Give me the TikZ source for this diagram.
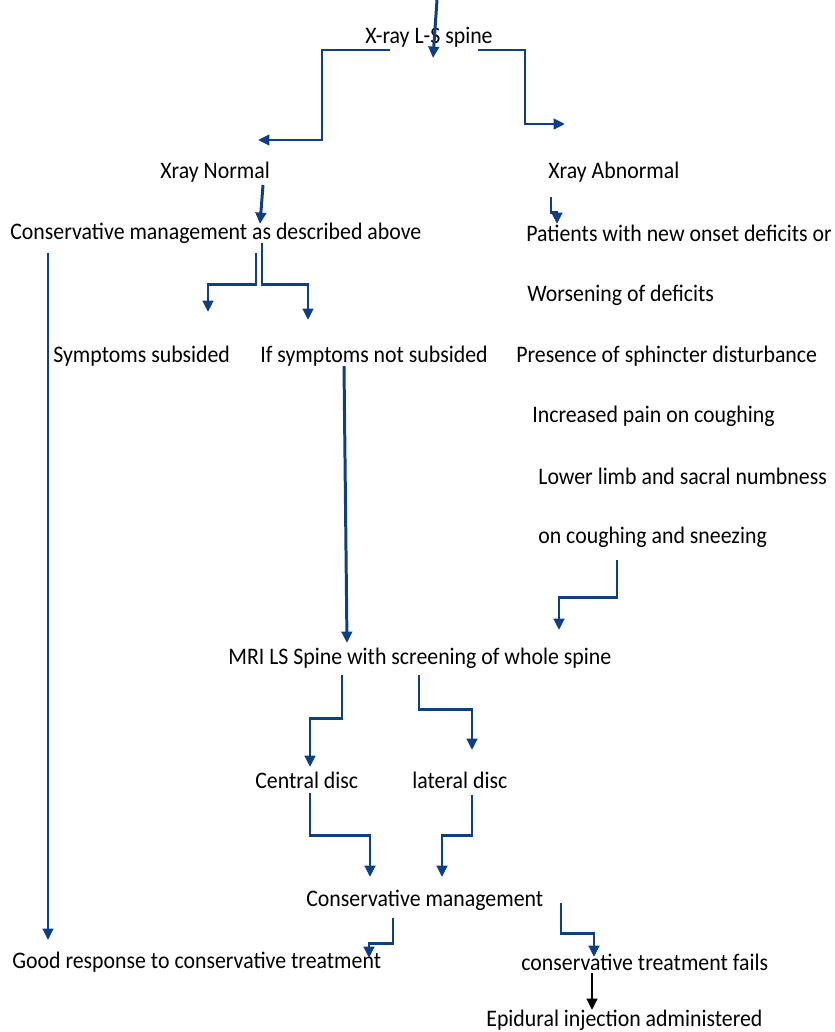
\documentclass[tikz,border=0pt]{standalone}
\usepackage{fontspec}
\setmainfont{Carlito}[FakeStretch=0.92]
\usepackage{tikz}
\usetikzlibrary{calc}
\usetikzlibrary{arrows.meta}
\definecolor{flowblue}{HTML}{0E3F82}

\begin{document}
\begin{tikzpicture}[x=0.02cm, y=-0.02cm,
		lbl/.style={anchor=west, inner sep=0pt, font=\fontsize{13.5}{15}\selectfont},
		conn/.style={flowblue, line width=1.7pt, -{Triangle[length=6.5pt, width=6pt]}},
		conndark/.style={conn, black}]
			\useasboundingbox (0, 0) rectangle (835, 1032);

			\node[lbl] (xray) at (365, 37) {X-ray L-S spine};
			\node[lbl] (xnorm) at (160, 172) {Xray Normal};
			\node[lbl] (xabn) at (548, 172) {Xray Abnormal};
			\node[lbl] (consabove) at (10, 233) {Conservative management as described above};
			\node[lbl] (patients) at (526, 233) {Patients with new onset deficits or};
			\node[lbl] (worsen) at (527, 295) {Worsening of deficits};
			\node[lbl] (subsided) at (53, 356) {Symptoms subsided};
			\node[lbl] (notsub) at (260, 356) {If symptoms not subsided};
			\node[lbl] (sphincter) at (516, 356) {Presence of sphincter disturbance};
			\node[lbl] (cough) at (532, 416) {Increased pain on coughing};
			\node[lbl] (numb) at (538, 476) {Lower limb and sacral numbness};
			\node[lbl] (sneeze) at (538, 537) {on coughing and sneezing};
			\node[lbl] (mri) at (228, 658) {MRI LS Spine with screening of whole spine};
			\node[lbl] (central) at (255, 780) {Central disc};
			\node[lbl] (lateral) at (412, 780) {lateral disc};
			\node[lbl] (consmgmt) at (306, 900) {Conservative management};
			\node[lbl] (good) at (12, 962) {Good response to conservative treatment};
			\node[lbl] (fails) at (521, 962) {conservative treatment fails};
			\node[lbl] (epidural) at (486, 1020) {Epidural injection administered};
			\coordinate (in) at (437, 0);

			\draw[conn] (in) -- ($(xray.west)+(68, 21)$);
			\draw[conn] ($(xray.west)+(25, 13)$) -| ($(xnorm.west)+(162, -32)$) -- ($(xnorm.west)+(98, -32)$);
			\draw[conn] ($(xray.west)+(113, 13)$) -| ($(xabn.west)+(-23, -48)$) -- ($(xabn.west)+(17, -48)$);
			\draw[conn] ($(xnorm.west)+(103, 13)$) -- ($(consabove.west)+(250, -9)$);
			\draw[conn] ($(xabn.west)+(3, 25)$) -- ++(0, 15) -- ++(6, 0) -- ($(patients.west)+(31, -9)$);
			\draw[conn] ($(consabove.west)+(246, 20)$) -- ++(0, 31) -| ($(subsided.west)+(155, -44)$);
			\draw[conn] ($(consabove.west)+(252, 10)$) -- ++(0, 41) -| ($(notsub.west)+(48, -36)$);
			\draw[conn] ($(consabove.west)+(38, 20)$) -- ($(good.west)+(36, -22)$);
			\draw[conn] ($(notsub.west)+(84, 10)$) -- ($(mri.west)+(119, -15)$);
			\draw[conn] ($(sneeze.west)+(79, 23)$) -- ++(0, 37) -| ($(mri.west)+(331, -28)$);
			\draw[conn] ($(mri.west)+(114, 17)$) -- ++(0, 43) -| ($(central.west)+(55, -13)$);
			\draw[conn] ($(mri.west)+(191, 17)$) -- ++(0, 34) -| ($(lateral.west)+(60, -30)$);
			\draw[conn] ($(central.west)+(55, 13)$) -- ++(0, 42) -| ($(consmgmt.west)+(64, -23)$);
			\draw[conn] ($(lateral.west)+(60, 15)$) -- ++(0, 40) -| ($(consmgmt.west)+(136, -23)$);
			\draw[conn] ($(consmgmt.west)+(87, 18)$) -- ++(0, 25) -| ($(good.west)+(357, -4)$);
			\draw[conn] ($(consmgmt.west)+(255, 3)$) -- ++(0, 30) -| ($(fails.west)+(73, -5)$);
			\draw[conndark] ($(fails.west)+(71, 11)$) -- ($(epidural.west)+(106, -10)$);
		\end{tikzpicture}
\end{document}
